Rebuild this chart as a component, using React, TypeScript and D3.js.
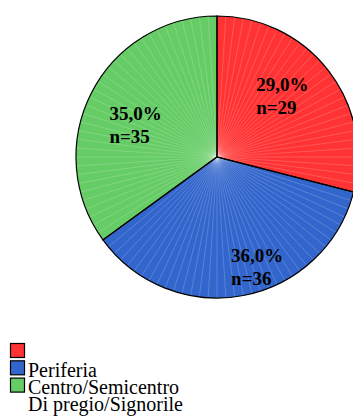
import React from "react";
import * as d3 from "d3";

// Slice data (clockwise from 12 o'clock)
const sliceValues = [29, 36, 35];
const sliceColors = ["#FF3333", "#3366CC", "#66CC66"];
const sliceCounts = [29, 36, 35];

// Legend rows: colour swatches and the text printed beside them
const legendColors = ["#FF3333", "#3366CC", "#66CC66", null];
const legendLabels = ["", "Periferia", "Centro/Semicentro", "Di pregio/Signorile"];

const W = 353;
const H = 417;
const cx = 217;
const cy = 157;
const R = 141;
const SERIF = "Liberation Serif";

// label placement per slice: radius fraction and angular nudge (degrees)
const labelPlace = [
  { r: 0.63, da: -5 },
  { r: 0.84, da: -9 },
  { r: 0.62, da: -6 },
];

const valueStyle = { fontFamily: SERIF, fontWeight: 700, fontSize: "19px" };
const legendStyle = { fontFamily: SERIF, fontSize: "20px" };

export default function App() {
  const total = d3.sum(sliceValues);
  const pie = d3.pie<number>().sort(null).value((d) => d)(sliceValues);
  const arc = d3.arc<d3.PieArcDatum<number>>().innerRadius(0).outerRadius(R);

  // thin light spokes, one per unit of the total
  const unitAngle = (2 * Math.PI) / total;
  const spokes = d3.range(total).map((i) => i * unitAngle);

  const fmt = (v: number) => ((v / total) * 100).toFixed(1).replace(".", ",") + "%";

  return (
    <svg width={W} height={H} style={{ position: "absolute", left: 0, top: 0 }}>
      <rect width={W} height={H} fill="#fff" />
      <g transform={`translate(${cx},${cy})`}>
        {pie.map((p, i) => (
          <path key={i} d={arc(p) || ""} fill={sliceColors[i]} />
        ))}
        {spokes.map((a, i) => (
          <line
            key={i}
            x1={0}
            y1={0}
            x2={R * Math.sin(a)}
            y2={-R * Math.cos(a)}
            stroke="#fff"
            strokeOpacity={0.3}
            strokeWidth={0.6}
          />
        ))}
        {pie.map((p, i) => (
          <path key={"o" + i} d={arc(p) || ""} fill="none" stroke="#000" strokeWidth={1.2} />
        ))}
        {pie.map((p, i) => {
          const mid = (p.startAngle + p.endAngle) / 2 + (labelPlace[i].da * Math.PI) / 180;
          const rr = R * labelPlace[i].r;
          const x = rr * Math.sin(mid) - 26;
          const y = -rr * Math.cos(mid);
          return (
            <g key={"l" + i}>
              <text x={x} y={y - 6} style={valueStyle} fill="#000">{fmt(sliceValues[i])}</text>
              <text x={x} y={y + 17} style={valueStyle} fill="#000">{"n=" + sliceCounts[i]}</text>
            </g>
          );
        })}
      </g>
      {legendLabels.map((lab, i) => {
        const top = 343 + i * 17.3;
        const col = legendColors[i];
        return (
          <g key={i}>
            {col && <rect x={10.5} y={top + 0.5} width={14} height={14} fill={col} stroke="#000" strokeWidth={1.2} />}
            {lab && (
              <text x={28} y={top + 16.5} style={legendStyle} fill="#000">
                {lab}
              </text>
            )}
          </g>
        );
      })}
    </svg>
  );
}
